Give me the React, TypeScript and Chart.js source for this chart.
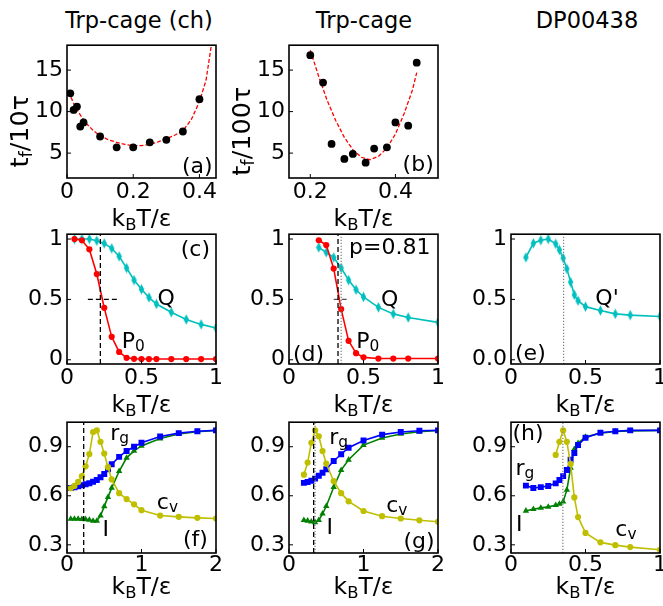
import React, { useEffect, useRef } from "react";
import { Chart, registerables } from "chart.js";
Chart.register(...registerables);

const FONT = '"DejaVu Sans", Verdana, sans-serif';
const RED = "#ff0000";
const CYAN = "#00bfbf";
const BLUE = "#0000ff";
const GREEN = "#008000";
const YELLOW = "#bfbf00";
const GRAY = "#808080";

// ---------- (a) Trp-cage (ch) folding time ----------
const tempA = [0.01, 0.02, 0.03, 0.04, 0.05, 0.1, 0.15, 0.2, 0.25, 0.3, 0.35, 0.4];
const foldTimeA = [12.2, 10.2, 10.6, 8.2, 8.7, 7.0, 5.7, 5.7, 6.3, 6.6, 7.6, 11.5];
const fitTempA = [0.005, 0.02, 0.04, 0.06, 0.08, 0.1, 0.125, 0.15, 0.175, 0.2, 0.225, 0.25, 0.275, 0.3, 0.325, 0.35, 0.375, 0.4, 0.42, 0.436];
const fitTimeA = [12.4, 11.0, 9.6, 8.5, 7.7, 7.1, 6.6, 6.3, 6.05, 5.9, 5.9, 6.05, 6.35, 6.75, 7.15, 7.7, 9.0, 11.2, 13.8, 18.0];

// ---------- (b) Trp-cage folding time ----------
const tempB = [0.2, 0.23, 0.25, 0.28, 0.3, 0.33, 0.35, 0.38, 0.4, 0.43, 0.45];
const foldTimeB = [16.8, 13.5, 6.1, 4.3, 4.9, 3.85, 5.55, 5.7, 8.7, 8.3, 15.9];
const fitTempB = [0.2, 0.22, 0.24, 0.26, 0.28, 0.3, 0.32, 0.34, 0.36, 0.38, 0.4, 0.42, 0.44, 0.45];
const fitTimeB = [17.4, 14.2, 11.3, 8.9, 6.9, 5.4, 4.5, 4.2, 4.6, 5.6, 7.3, 9.7, 12.6, 14.7];

// ---------- (c) ----------
const tempC = [0.05, 0.1, 0.15, 0.2, 0.25, 0.3, 0.35, 0.4, 0.45, 0.5, 0.55, 0.6, 0.7, 0.8, 0.9, 1.0];
const p0C = [1.0, 0.99, 0.915, 0.71, 0.43, 0.19, 0.065, 0.016, 0.008, 0.006, 0.006, 0.006, 0.006, 0.006, 0.006, 0.006];
const qC = [1.0, 1.0, 1.0, 0.986, 0.964, 0.923, 0.856, 0.76, 0.66, 0.584, 0.516, 0.462, 0.394, 0.334, 0.293, 0.263];
const tfC = 0.224;

// ---------- (d) ----------
const tempD = [0.2, 0.25, 0.3, 0.35, 0.4, 0.45, 0.5, 0.6, 0.7, 0.8, 1.0];
const p0D = [0.99, 0.95, 0.755, 0.42, 0.157, 0.055, 0.02, 0.01, 0.01, 0.01, 0.01];
const qD = [0.93, 0.89, 0.848, 0.76, 0.66, 0.58, 0.52, 0.434, 0.38, 0.35, 0.31];
const tfD = 0.329;
const tpD = 0.35;

// ---------- (e) DP00438 ----------
const tempE = [0.1, 0.15, 0.2, 0.25, 0.3, 0.325, 0.35, 0.375, 0.4, 0.425, 0.45, 0.5, 0.6, 0.7, 0.8, 1.0];
const qPrimeE = [0.848, 0.965, 0.99, 1.0, 0.96, 0.91, 0.842, 0.753, 0.644, 0.538, 0.489, 0.44, 0.408, 0.38, 0.37, 0.359];
const tpE = 0.353;

// ---------- (f) ----------
const tempF = [0.05, 0.1, 0.15, 0.2, 0.25, 0.3, 0.35, 0.4, 0.45, 0.5, 0.55, 0.6, 0.7, 0.8, 0.9, 1.0, 1.25, 1.5, 1.75, 2.0];
const cvF = [0.646, 0.66, 0.685, 0.72, 0.78, 0.855, 0.99, 1.0, 0.93, 0.858, 0.775, 0.7, 0.616, 0.58, 0.548, 0.512, 0.479, 0.471, 0.465, 0.461];
const rgF = [0.648, 0.652, 0.658, 0.664, 0.67, 0.677, 0.686, 0.697, 0.713, 0.733, 0.762, 0.793, 0.838, 0.874, 0.9, 0.924, 0.962, 0.983, 0.995, 1.0];
const iF = [0.458, 0.458, 0.458, 0.457, 0.456, 0.452, 0.446, 0.446, 0.478, 0.535, 0.592, 0.648, 0.75, 0.832, 0.875, 0.905, 0.95, 0.978, 0.992, 1.0];
const tfF = 0.224;

// ---------- (g) ----------
const tempG = [0.2, 0.25, 0.3, 0.35, 0.4, 0.45, 0.5, 0.6, 0.7, 0.8, 1.0, 1.25, 1.5, 1.75, 2.0];
const cvG = [0.729, 0.803, 0.924, 1.0, 0.964, 0.874, 0.797, 0.689, 0.616, 0.566, 0.507, 0.475, 0.461, 0.45, 0.441];
const rgG = [0.679, 0.684, 0.692, 0.705, 0.722, 0.741, 0.762, 0.813, 0.854, 0.894, 0.938, 0.974, 0.99, 0.998, 1.0];
const iG = [0.451, 0.447, 0.441, 0.437, 0.451, 0.49, 0.536, 0.652, 0.757, 0.82, 0.91, 0.954, 0.978, 0.992, 0.999];
const tfG = 0.331;
const tpG = 0.35;

// ---------- (h) ----------
const tempHcv = [0.3, 0.325, 0.35, 0.375, 0.4, 0.425, 0.45, 0.5, 0.6, 0.7, 0.8, 1.0];
const cvH = [0.85, 0.93, 1.0, 0.93, 0.795, 0.59, 0.47, 0.373, 0.315, 0.298, 0.286, 0.27];
const tempH = [0.1, 0.15, 0.2, 0.25, 0.3, 0.325, 0.35, 0.375, 0.4, 0.425, 0.45, 0.5, 0.6, 0.7, 0.8, 1.0];
const rgH = [0.662, 0.648, 0.653, 0.66, 0.676, 0.696, 0.72, 0.758, 0.82, 0.862, 0.91, 0.955, 0.985, 0.995, 1.0, 1.0];
const iH = [0.508, 0.518, 0.526, 0.532, 0.542, 0.55, 0.564, 0.636, 0.77, 0.885, 0.922, 0.96, 0.983, 0.993, 0.997, 1.0];
const tpH = 0.348;

// ---------- ticks ----------
const ticksTimeY = [5, 10, 15];
const labelsTimeY = ["5", "10", "15"];
const ticksA = [0, 0.2, 0.4];
const labelsA = ["0", "0.2", "0.4"];
const ticksB = [0.2, 0.4];
const labelsB = ["0.2", "0.4"];
const ticksUnit = [0, 0.5, 1];
const labelsUnit = ["0", "0.5", "1"];
const labelsUnitE = ["0.0", "0.5", "1"];
const ticksTwo = [0, 1, 2];
const labelsTwo = ["0", "1", "2"];
const ticksRow3Y = [0.3, 0.6, 0.9];
const labelsRow3Y = ["0.3", "0.6", "0.9"];

const columnTitles = ["Trp-cage (ch)", "Trp-cage", "DP00438"];

// ---------- helpers ----------
type Part = { t: string; sub?: boolean };
type Align = "left" | "center" | "right";
type Label = { parts: Part[]; x: number; y: number; align: Align };

const txt = (t: string): Part[] => [{ t }];
const KBT: Part[] = [{ t: "k" }, { t: "B", sub: true }, { t: "T/ε" }];

function drawRich(ctx: CanvasRenderingContext2D, parts: Part[], x: number, y: number, size: number, align: Align, rotate = false) {
  const main = `${size}px ${FONT}`;
  const sub = `${size * 0.7}px ${FONT}`;
  const widths = parts.map((p) => {
    ctx.font = p.sub ? sub : main;
    return ctx.measureText(p.t).width;
  });
  const total = widths.reduce((s, w) => s + w, 0);
  let cx = align === "center" ? -total / 2 : align === "right" ? -total : 0;
  const base = 0.3645 * size;
  ctx.save();
  ctx.translate(x, y);
  if (rotate) ctx.rotate(-Math.PI / 2);
  ctx.textBaseline = "alphabetic";
  ctx.textAlign = "left";
  ctx.fillStyle = "#000";
  parts.forEach((p, i) => {
    ctx.font = p.sub ? sub : main;
    ctx.fillText(p.t, cx, p.sub ? base + 0.15 * size : base);
    cx += widths[i];
  });
  ctx.restore();
}

const xy = (xs: number[], ys: number[]) => xs.map((x, i) => ({ x, y: ys[i] }));

function series(xs: number[], ys: number[], color: string, pointStyle: any, radius: number) {
  return {
    data: xy(xs, ys),
    showLine: true,
    borderColor: color,
    backgroundColor: color,
    borderWidth: 1.6,
    pointStyle,
    pointRadius: radius,
    pointBackgroundColor: color,
    pointBorderColor: color,
    pointBorderWidth: 0,
    tension: 0,
  };
}
function dots(xs: number[], ys: number[], color: string, radius: number) {
  return { ...series(xs, ys, color, "circle", radius), showLine: false };
}
function dashedCurve(xs: number[], ys: number[], color: string) {
  return { data: xy(xs, ys), showLine: true, borderColor: color, borderWidth: 1.3, borderDash: [4, 2], pointRadius: 0, tension: 0 };
}
function segment(x0: number, y0: number, x1: number, y1: number, color: string, dash: number[], width: number) {
  return {
    data: [{ x: x0, y: y0 }, { x: x1, y: y1 }],
    showLine: true,
    borderColor: color,
    borderWidth: width,
    borderDash: dash,
    pointRadius: 0,
    tension: 0,
  };
}
const DASH = [5, 3];
const DOT = [1.2, 1.8];

interface PanelSpec {
  left: number; top: number; width: number; height: number;
  xMin: number; xMax: number; yMin: number; yMax: number;
  xTicks: number[]; xLabels: string[]; yTicks: number[]; yLabels: string[];
  datasets: any[];
  labels: Label[];
  tickPad: number;
  xTitleDy: number;
  yTitle?: Part[];
}

const COLS = [67, 289, 511];
const ROWS = [43, 232, 420];
const W = 149;
const HS = [135, 132, 133];
const ROW_Y = [
  [2, 18],
  [-0.035, 1.04],
  [0.25, 1.05],
];
const TICKPAD = [1, 1, -0.5];
const XTITLE_DY = [39.5, 39.5, 32.5];

function base(col: number, row: number) {
  return {
    left: COLS[col], top: ROWS[row], width: W, height: HS[row],
    yMin: ROW_Y[row][0], yMax: ROW_Y[row][1],
    tickPad: TICKPAD[row], xTitleDy: XTITLE_DY[row],
  };
}

const R_BIG = 3.9;
const R_CIRC = 3.1;
const R_RECT = 4.2;
const R_TRI = 3.7;
const R_DIAM = 3;

const panels: PanelSpec[] = [
  {
    ...base(0, 0), xMin: 0, xMax: 0.45,
    xTicks: ticksA, xLabels: labelsA, yTicks: ticksTimeY, yLabels: labelsTimeY,
    datasets: [dots(tempA, foldTimeA, "#000", R_BIG), dashedCurve(fitTempA, fitTimeA, RED)],
    labels: [{ parts: txt("(a)"), x: 0.44, y: 3.6, align: "right" }],
    yTitle: [{ t: "t" }, { t: "f", sub: true }, { t: "/10τ" }],
  },
  {
    ...base(1, 0), xMin: 0.15, xMax: 0.5,
    xTicks: ticksB, xLabels: labelsB, yTicks: ticksTimeY, yLabels: labelsTimeY,
    datasets: [dots(tempB, foldTimeB, "#000", R_BIG), dashedCurve(fitTempB, fitTimeB, RED)],
    labels: [{ parts: txt("(b)"), x: 0.49, y: 3.8, align: "right" }],
    yTitle: [{ t: "t" }, { t: "f", sub: true }, { t: "/100τ" }],
  },
  {
    ...base(0, 1), xMin: 0, xMax: 1,
    xTicks: ticksUnit, xLabels: labelsUnit, yTicks: ticksUnit, yLabels: labelsUnit,
    datasets: [
      segment(tfC, -0.035, tfC, 1.04, "#000", DASH, 1.3),
      segment(0.14, 0.5, 0.35, 0.5, "#000", DASH, 1.3),
      series(tempC, p0C, RED, "circle", R_CIRC),
      series(tempC, qC, CYAN, "thinDiamond", R_DIAM),
    ],
    labels: [
      { parts: txt("(c)"), x: 0.96, y: 0.93, align: "right" },
      { parts: txt("Q"), x: 0.666, y: 0.523, align: "center" },
      { parts: [{ t: "P" }, { t: "0", sub: true }], x: 0.367, y: 0.163, align: "left" },
    ],
  },
  {
    ...base(1, 1), xMin: 0, xMax: 1,
    xTicks: ticksUnit, xLabels: labelsUnit, yTicks: ticksUnit, yLabels: labelsUnit,
    datasets: [
      segment(tfD, -0.035, tfD, 1.04, "#000", DASH, 1.3),
      segment(tpD, -0.035, tpD, 1.04, GRAY, DOT, 1.2),
      segment(0.3, 0.5, 0.4, 0.5, "#555", DASH, 1.3),
      series(tempD, p0D, RED, "circle", R_CIRC),
      series(tempD, qD, CYAN, "thinDiamond", R_DIAM),
    ],
    labels: [
      { parts: txt("p=0.81"), x: 0.949, y: 0.94, align: "right" },
      { parts: txt("Q"), x: 0.676, y: 0.513, align: "center" },
      { parts: [{ t: "P" }, { t: "0", sub: true }], x: 0.452, y: 0.163, align: "left" },
      { parts: txt("(d)"), x: 0.027, y: 0.055, align: "left" },
    ],
  },
  {
    ...base(2, 1), xMin: 0, xMax: 1,
    xTicks: ticksUnit, xLabels: labelsUnit, yTicks: ticksUnit, yLabels: labelsUnitE,
    datasets: [
      segment(tpE, -0.035, tpE, 1.04, GRAY, DOT, 1.2),
      series(tempE, qPrimeE, CYAN, "thinDiamond", R_DIAM),
    ],
    labels: [
      { parts: txt("Q'"), x: 0.566, y: 0.523, align: "left" },
      { parts: txt("(e)"), x: 0.027, y: 0.068, align: "left" },
    ],
  },
  {
    ...base(0, 2), xMin: 0, xMax: 2,
    xTicks: ticksTwo, xLabels: labelsTwo, yTicks: ticksRow3Y, yLabels: labelsRow3Y,
    datasets: [
      segment(tfF, 0.25, tfF, 1.05, "#000", DASH, 1.3),
      series(tempF, cvF, YELLOW, "circle", R_CIRC),
      series(tempF, rgF, BLUE, "rect", R_RECT),
      series(tempF, iF, GREEN, "triangle", R_TRI),
    ],
    labels: [
      { parts: [{ t: "r" }, { t: "g", sub: true }], x: 0.58, y: 0.99, align: "left" },
      { parts: [{ t: "c" }, { t: "v", sub: true }], x: 1.206, y: 0.57, align: "left" },
      { parts: txt("I"), x: 0.52, y: 0.405, align: "center" },
      { parts: txt("(f)"), x: 1.89, y: 0.34, align: "right" },
    ],
  },
  {
    ...base(1, 2), xMin: 0, xMax: 2,
    xTicks: ticksTwo, xLabels: labelsTwo, yTicks: ticksRow3Y, yLabels: labelsRow3Y,
    datasets: [
      segment(tfG, 0.25, tfG, 1.05, "#000", DASH, 1.3),
      segment(tpG, 0.25, tpG, 1.05, GRAY, DOT, 1.2),
      series(tempG, cvG, YELLOW, "circle", R_CIRC),
      series(tempG, rgG, BLUE, "rect", R_RECT),
      series(tempG, iG, GREEN, "triangle", R_TRI),
    ],
    labels: [
      { parts: [{ t: "r" }, { t: "g", sub: true }], x: 0.54, y: 0.965, align: "left" },
      { parts: [{ t: "c" }, { t: "v", sub: true }], x: 1.305, y: 0.55, align: "left" },
      { parts: txt("I"), x: 0.547, y: 0.417, align: "center" },
      { parts: txt("(g)"), x: 1.955, y: 0.331, align: "right" },
    ],
  },
  {
    ...base(2, 2), xMin: 0, xMax: 1,
    xTicks: ticksUnit, xLabels: labelsUnit, yTicks: ticksRow3Y, yLabels: labelsRow3Y,
    datasets: [
      segment(tpH, 0.25, tpH, 1.05, GRAY, DOT, 1.2),
      series(tempHcv, cvH, YELLOW, "circle", R_CIRC),
      series(tempH, rgH, BLUE, "rect", R_RECT),
      series(tempH, iH, GREEN, "triangle", R_TRI),
    ],
    labels: [
      { parts: txt("(h)"), x: 0.01, y: 0.99, align: "left" },
      { parts: [{ t: "r" }, { t: "g", sub: true }], x: 0.03, y: 0.779, align: "left" },
      { parts: txt("I"), x: 0.056, y: 0.431, align: "center" },
      { parts: [{ t: "c" }, { t: "v", sub: true }], x: 0.7, y: 0.405, align: "left" },
    ],
  },
];

const ML = 66, MT = 15, MR = 16, MB = 62;
const TICK_FONT = 22;
const LABEL_FONT = 22;
const TITLE_FONT = 22.5;
const XTITLE_FONT = 23.5;
const YTITLE_FONT = 25.5;

function thinDiamond(color: string) {
  const c = document.createElement("canvas");
  c.width = 7;
  c.height = 11;
  const g = c.getContext("2d")!;
  g.fillStyle = color;
  g.beginPath();
  g.moveTo(3.5, 0.3);
  g.lineTo(6.2, 5.5);
  g.lineTo(3.5, 10.7);
  g.lineTo(0.8, 5.5);
  g.closePath();
  g.fill();
  return c;
}

function makeDecor(spec: PanelSpec) {
  return {
    id: "decor",
    afterDatasetsDraw(chart: any) {
      const { ctx, chartArea: a, scales } = chart;
      const xs = scales.x;
      const ys = scales.y;
      ctx.save();
      for (const l of spec.labels) {
        drawRich(ctx, l.parts, xs.getPixelForValue(l.x), ys.getPixelForValue(l.y), LABEL_FONT, l.align);
      }
      ctx.strokeStyle = "#000";
      ctx.lineWidth = 1;
      ctx.setLineDash([]);
      for (const v of spec.xTicks) {
        const px = xs.getPixelForValue(v);
        ctx.beginPath();
        ctx.moveTo(px, a.bottom);
        ctx.lineTo(px, a.bottom - 4);
        ctx.stroke();
      }
      for (const v of spec.yTicks) {
        const py = ys.getPixelForValue(v);
        ctx.beginPath();
        ctx.moveTo(a.left, py);
        ctx.lineTo(a.left + 4, py);
        ctx.stroke();
      }
      ctx.lineWidth = 1.6;
      ctx.strokeRect(a.left, a.top, a.right - a.left, a.bottom - a.top);
      drawRich(ctx, KBT, (a.left + a.right) / 2, a.bottom + spec.xTitleDy, XTITLE_FONT, "center");
      if (spec.yTitle) drawRich(ctx, spec.yTitle, a.left - 48, a.top + 86, YTITLE_FONT, "center", true);
      ctx.restore();
    },
  };
}

function Panel({ spec }: { spec: PanelSpec }) {
  const ref = useRef<HTMLCanvasElement | null>(null);
  const cw = spec.width + ML + MR;
  const ch = spec.height + MT + MB;
  useEffect(() => {
    if (!ref.current) return;
    const datasets = spec.datasets.map((d) =>
      d.pointStyle === "thinDiamond" ? { ...d, pointStyle: thinDiamond(d.borderColor) } : d
    );
    const tickFont = { family: FONT, size: TICK_FONT };
    const chart = new Chart(ref.current, {
      type: "scatter",
      data: { datasets },
      plugins: [makeDecor(spec)],
      options: {
        animation: false,
        responsive: false,
        events: [],
        layout: { autoPadding: false, padding: { left: 0, top: MT, right: MR, bottom: 0 } },
        plugins: { legend: { display: false }, tooltip: { enabled: false } },
        scales: {
          x: {
            type: "linear",
            min: spec.xMin,
            max: spec.xMax,
            afterFit: (s: any) => { s.height = MB; },
            afterBuildTicks: (s: any) => { s.ticks = spec.xTicks.map((v) => ({ value: v })); },
            ticks: {
              autoSkip: false, maxRotation: 0, minRotation: 0, padding: spec.tickPad,
              font: tickFont, color: "#000",
              callback: (_v: any, i: number) => spec.xLabels[i],
            },
            grid: { display: false, drawTicks: false },
            border: { display: false },
          },
          y: {
            type: "linear",
            min: spec.yMin,
            max: spec.yMax,
            afterFit: (s: any) => { s.width = ML; },
            afterBuildTicks: (s: any) => { s.ticks = spec.yTicks.map((v) => ({ value: v })); },
            ticks: {
              autoSkip: false, padding: 4, font: tickFont, color: "#000",
              callback: (_v: any, i: number) => spec.yLabels[i],
            },
            grid: { display: false, drawTicks: false },
            border: { display: false },
          },
        },
      } as any,
    });
    return () => chart.destroy();
  }, [spec]);
  return (
    <canvas
      ref={ref}
      width={cw}
      height={ch}
      style={{ position: "absolute", left: spec.left - ML, top: spec.top - MT, width: cw, height: ch }}
    />
  );
}

const TITLE_X = [139, 364, 587];

export default function App() {
  return (
    <div style={{ position: "absolute", left: 0, top: 0, width: 663, height: 606, background: "#fff", overflow: "hidden" }}>
      {columnTitles.map((t, i) => (
        <div
          key={t}
          style={{
            position: "absolute", left: TITLE_X[i] - 120, width: 240, top: 9.2, textAlign: "center",
            fontFamily: FONT, fontSize: TITLE_FONT, lineHeight: "22px", color: "#000", whiteSpace: "nowrap",
          }}
        >
          {t}
        </div>
      ))}
      {panels.map((p, i) => (
        <Panel key={i} spec={p} />
      ))}
    </div>
  );
}
